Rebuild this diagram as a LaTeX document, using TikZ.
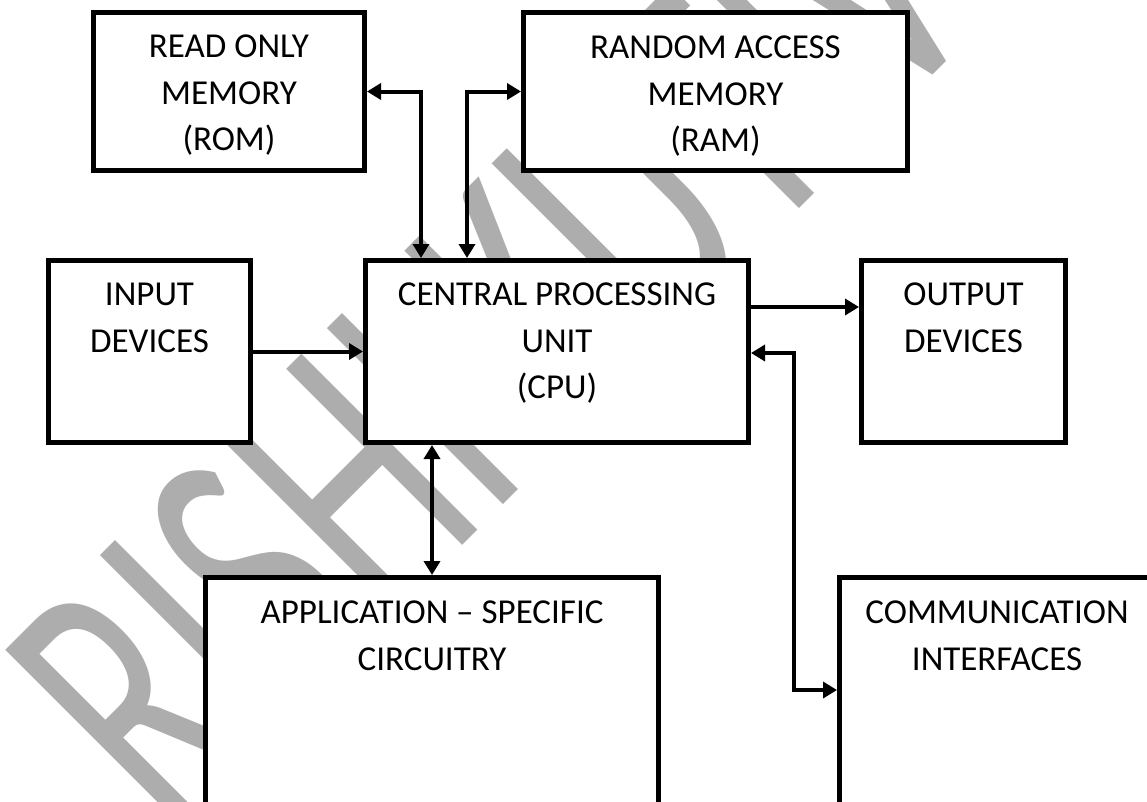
\documentclass[tikz,border=0pt]{standalone}
\usepackage{fontspec}
\setmainfont{Carlito}
\usetikzlibrary{arrows.meta}
\definecolor{wmgray}{RGB}{173,173,173}
\begin{document}
\begin{tikzpicture}[x=1pt,y=-1pt,
  >={Triangle[length=14pt,width=16pt]},
  blk/.style={draw, line width=5pt, fill=white, inner sep=0pt, rectangle},
  lbl/.style={anchor=north, align=center, inner sep=0pt, font=\fontsize{35}{46.5}\selectfont},
  conn/.style={line width=4pt}]
\clip (0,0) rectangle (1147,801);
\fill[white] (0,0) rectangle (1147,801);

% watermark behind everything
\node[rotate=45, anchor=base, text=wmgray, inner sep=0pt,
      font=\fontsize{388}{388}\selectfont] (wm) at (579,429)
      {\scalebox{0.62}[1]{RISHI KUTIV}};

% blocks
\node[blk, minimum width=271pt, minimum height=158pt] (rom) at (229,91.5) {};
\node[blk, minimum width=384pt, minimum height=158pt] (ram) at (715.5,91.5) {};
\node[blk, minimum width=202pt, minimum height=182pt] (inp) at (149.5,351.5) {};
\node[blk, minimum width=383pt, minimum height=182pt] (cpu) at (557,351.5) {};
\node[blk, minimum width=204pt, minimum height=182pt] (out) at (963.5,351.5) {};
\node[blk, minimum width=453pt, minimum height=262.5pt] (app) at (432,708.75) {};
\node[blk, minimum width=320.5pt, minimum height=262.5pt] (com) at (999.75,708.75) {};

% labels
\node[lbl] (romt) at ([yshift=-25pt]rom.north) {READ ONLY\\MEMORY\\(ROM)};
\node[lbl] (ramt) at ([yshift=-26pt]ram.north) {RANDOM ACCESS\\MEMORY\\(RAM)};
\node[lbl] (inpt) at ([yshift=-25pt]inp.north) {INPUT\\DEVICES};
\node[lbl] (cput) at ([yshift=-25pt]cpu.north) {CENTRAL PROCESSING\\UNIT\\(CPU)};
\node[lbl] (outt) at ([yshift=-25pt]out.north) {OUTPUT\\DEVICES};
\node[lbl] (appt) at ([yshift=-26pt]app.north) {APPLICATION – SPECIFIC\\CIRCUITRY};
\node[lbl] (comt) at ([yshift=-26pt]com.north-|997,0) {COMMUNICATION\\INTERFACES};

% connectors
\coordinate (romdrop) at (421,93);
\coordinate (ramrise) at (467,93);
\coordinate (outrow) at (0,307);
\coordinate (cb1) at (794,353);
\coordinate (cb2) at (794,690);
\draw[conn,<->] (rom.east) -| (romdrop |- cpu.north);
\draw[conn,<->] (ramrise |- cpu.north) |- (ram.west);
\draw[conn,->] (inp.east) -- (cpu.west);
\draw[conn,->] (outrow -| cpu.east) -- (outrow -| out.west);
\draw[conn,<->] (app.north) -- (app.north |- cpu.south);
\draw[conn,<->] (cb1 -| cpu.east) -- (cb1) -- (cb2) -- (cb2 -| com.west);
\end{tikzpicture}
\end{document}
